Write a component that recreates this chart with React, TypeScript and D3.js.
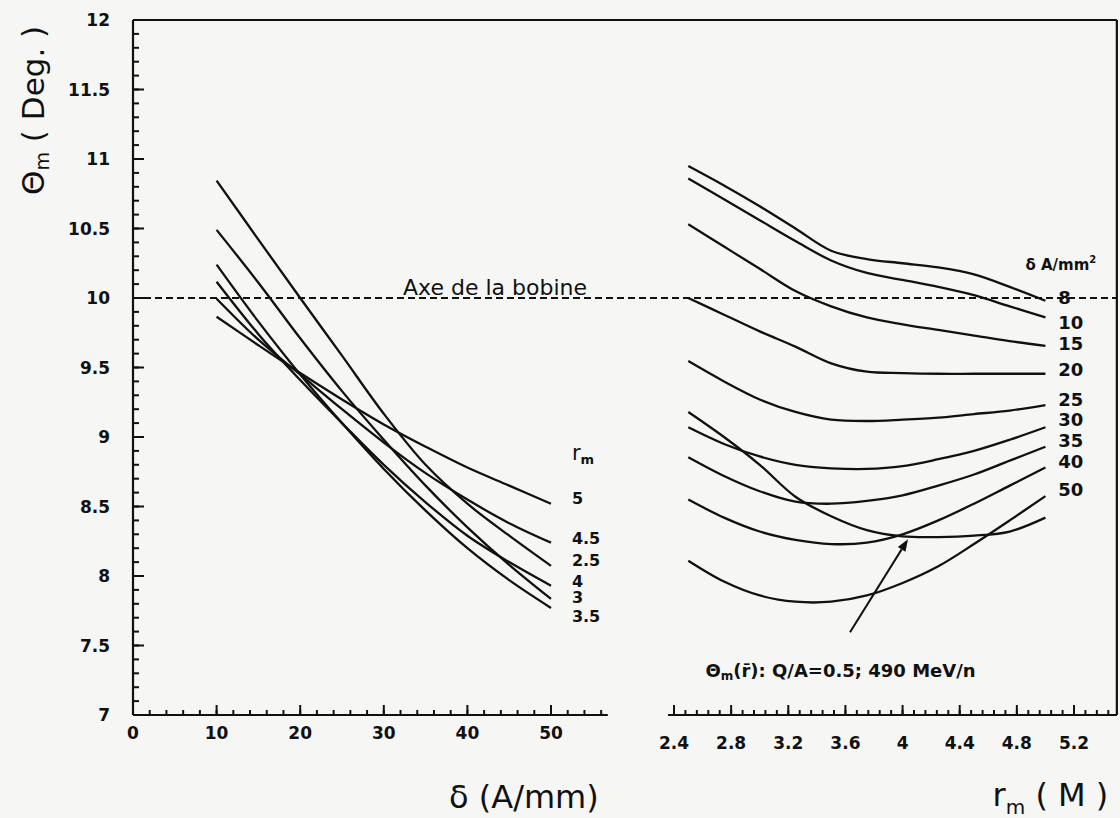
import React from "react";
import * as d3 from "d3";

// ---- Left panel: theta_m vs delta (A/mm) for several r_m ----
const deltaValues = [10, 15, 20, 25, 30, 35, 40, 45, 50];
const rmNames = ["2.5", "3", "3.5", "4", "4.5", "5"];
const thetaRm25 = [10.845, 10.42, 10.0, 9.585, 9.167, 8.8, 8.52, 8.29, 8.073];
const thetaRm3 = [10.49, 10.11, 9.71, 9.33, 8.98, 8.65, 8.35, 8.08, 7.835];
const thetaRm35 = [10.24, 9.83, 9.45, 9.1, 8.77, 8.47, 8.2, 7.97, 7.77];
const thetaRm4 = [10.117, 9.74, 9.41, 9.1, 8.8, 8.53, 8.29, 8.1, 7.93];
const thetaRm45 = [9.995, 9.7, 9.45, 9.2, 8.96, 8.74, 8.55, 8.38, 8.24];
const thetaRm5 = [9.865, 9.66, 9.46, 9.27, 9.09, 8.93, 8.78, 8.65, 8.52];
const leftSeries = [thetaRm25, thetaRm3, thetaRm35, thetaRm4, thetaRm45, thetaRm5];
// label anchor values (theta units) for end labels, order: 5, 4.5, 2.5, 4, 3, 3.5
const leftLabelNames = ["5", "4.5", "2.5", "4", "3", "3.5"];
const leftLabelTheta = [8.561, 8.273, 8.108, 7.964, 7.842, 7.712];
const rmTitleTheta = 8.885;

// ---- Right panel: theta_m vs r_m (M) for several delta ----
const rmValues = [2.5, 2.75, 3.0, 3.25, 3.5, 3.75, 4.0, 4.25, 4.5, 4.75, 5.0];
const d8 = [10.95, 10.81, 10.66, 10.5, 10.34, 10.28, 10.25, 10.22, 10.17, 10.08, 9.98];
const d10 = [10.86, 10.71, 10.56, 10.41, 10.27, 10.18, 10.13, 10.08, 10.02, 9.94, 9.86];
const d15 = [10.53, 10.37, 10.21, 10.05, 9.94, 9.86, 9.81, 9.77, 9.73, 9.69, 9.655];
const d20 = [10.0, 9.88, 9.76, 9.65, 9.53, 9.47, 9.46, 9.455, 9.455, 9.455, 9.455];
const d25 = [9.546, 9.4, 9.27, 9.18, 9.125, 9.115, 9.125, 9.14, 9.165, 9.19, 9.23];
const d30 = [9.07, 8.95, 8.86, 8.8, 8.775, 8.77, 8.79, 8.84, 8.9, 8.98, 9.07];
const d35 = [8.855, 8.72, 8.61, 8.535, 8.52, 8.54, 8.58, 8.65, 8.73, 8.83, 8.93];
const d40 = [8.55, 8.42, 8.32, 8.26, 8.23, 8.24, 8.3, 8.4, 8.52, 8.65, 8.78];
const d50 = [8.11, 7.96, 7.86, 7.815, 7.815, 7.86, 7.95, 8.07, 8.23, 8.4, 8.575];
const thetaMrBar = [9.18, 9.0, 8.8, 8.57, 8.43, 8.33, 8.285, 8.28, 8.29, 8.32, 8.42];
const rightSeries = [d8, d10, d15, d20, d25, d30, d35, d40, d50, thetaMrBar];
const deltaNames = ["8", "10", "15", "20", "25", "30", "35", "40", "50"];
const deltaLabelTheta = [10.007, 9.827, 9.676, 9.489, 9.273, 9.129, 8.978, 8.826, 8.625];
const deltaTitleTheta = 10.24;

// annotation arrow (r_m, theta): tail -> tip
const arrowR = [3.632, 4.038];
const arrowTheta = [7.595, 8.265];
const annotationTheta = 7.27;
const annotationR = 2.62;

// axis ticks
const yMajor = d3.range(7, 12.001, 0.5);
const yMinor = d3.range(7, 12.001, 0.1);
const leftXMajor = [0, 10, 20, 30, 40, 50];
const leftXMinor = d3.range(0, 56.01, 2);
const rightXMajor = [2.4, 2.8, 3.2, 3.6, 4.0, 4.4, 4.8, 5.2];
const rightXMinor = d3.range(2.4, 5.45, 0.08);
const axeTheta = 10;

const W = 1120;
const H = 818;

export default function App() {
  const y = d3.scaleLinear().domain([7, 12]).range([715, 20]);
  const xL = d3.scaleLinear().domain([0, 50]).range([133, 551]);
  const xR = d3.scaleLinear().domain([2.4, 5.2]).range([674, 1074]);
  const leftAxisEnd = xL(56.8);
  const rightAxisStart = xR(2.358);
  const rightEdge = xR(5.5);
  const yBase = y(7);

  const lineL = d3
    .line<number>()
    .x((_, i) => xL(deltaValues[i]))
    .y((d) => y(d))
    .curve(d3.curveCatmullRom.alpha(0.5));
  const lineR = d3
    .line<number>()
    .x((_, i) => xR(rmValues[i]))
    .y((d) => y(d))
    .curve(d3.curveCatmullRom.alpha(0.5));

  const font = "'DejaVu Sans', 'Liberation Sans', sans-serif";
  const ink = "#111";
  const fmt = (v: number) => String(+v.toFixed(2));

  const ax1 = xR(arrowR[0]);
  const ay1 = y(arrowTheta[0]);
  const ax2 = xR(arrowR[1]);
  const ay2 = y(arrowTheta[1]);
  const ang = Math.atan2(ay2 - ay1, ax2 - ax1);
  const hl = 12;
  const hw = 4.5;
  const bx = ax2 - hl * Math.cos(ang);
  const by = ay2 - hl * Math.sin(ang);
  const head = `M${ax2},${ay2} L${bx + hw * Math.sin(ang)},${by - hw * Math.cos(ang)} L${bx - hw * Math.sin(ang)},${by + hw * Math.cos(ang)} Z`;

  return (
    <svg
      width={W}
      height={H}
      style={{ position: "absolute", left: 0, top: 0, display: "block", background: "#f6f6f5" }}
    >
      <rect x={0} y={0} width={W} height={H} fill="#f6f6f5" />
      {/* frame */}
      <g stroke={ink} strokeWidth={2.2} fill="none">
        <line x1={xL(0)} y1={y(12)} x2={rightEdge} y2={y(12)} />
        <line x1={xL(0)} y1={y(12)} x2={xL(0)} y2={yBase} />
        <line x1={rightEdge} y1={y(12)} x2={rightEdge} y2={yBase} />
        <line x1={xL(0)} y1={yBase} x2={leftAxisEnd} y2={yBase} />
        <line x1={rightAxisStart} y1={yBase} x2={rightEdge} y2={yBase} />
      </g>
      {/* y ticks */}
      <g stroke={ink} strokeWidth={2}>
        {yMinor.map((v, i) => (
          <line key={"ym" + i} x1={xL(0)} x2={xL(0) + 6} y1={y(v)} y2={y(v)} />
        ))}
        {yMajor.map((v, i) => (
          <line key={"yM" + i} x1={xL(0)} x2={xL(0) + 11} y1={y(v)} y2={y(v)} />
        ))}
      </g>
      <g fontFamily={font} fontWeight="bold" fontSize={17} fill={ink} textAnchor="end">
        {yMajor.map((v, i) => (
          <text key={"yl" + i} x={110} y={y(v)} dominantBaseline="central">
            {fmt(v)}
          </text>
        ))}
      </g>
      {/* left x ticks */}
      <g stroke={ink} strokeWidth={2}>
        {leftXMinor.map((v, i) => (
          <line key={"lxm" + i} x1={xL(v)} x2={xL(v)} y1={yBase} y2={yBase - 5} />
        ))}
        {leftXMajor.map((v, i) => (
          <line key={"lxM" + i} x1={xL(v)} x2={xL(v)} y1={yBase} y2={yBase - 10} />
        ))}
      </g>
      <g fontFamily={font} fontWeight="bold" fontSize={17} fill={ink} textAnchor="middle">
        {leftXMajor.map((v, i) => (
          <text key={"lxl" + i} x={xL(v)} y={yBase + 18} dominantBaseline="central">
            {v}
          </text>
        ))}
      </g>
      {/* right x ticks */}
      <g stroke={ink} strokeWidth={2}>
        {rightXMinor.map((v, i) => (
          <line key={"rxm" + i} x1={xR(v)} x2={xR(v)} y1={yBase} y2={yBase - 5} />
        ))}
        {rightXMajor.map((v, i) => (
          <line key={"rxM" + i} x1={xR(v)} x2={xR(v)} y1={yBase} y2={yBase - 10} />
        ))}
      </g>
      <g fontFamily={font} fontWeight="bold" fontSize={17} fill={ink} textAnchor="middle">
        {rightXMajor.map((v, i) => (
          <text key={"rxl" + i} x={xR(v)} y={yBase + 28} dominantBaseline="central">
            {fmt(v)}
          </text>
        ))}
      </g>
      {/* dashed coil axis */}
      <line
        x1={xL(0)}
        x2={rightEdge}
        y1={y(axeTheta)}
        y2={y(axeTheta)}
        stroke={ink}
        strokeWidth={2.2}
        strokeDasharray="7,4"
      />
      <text x={xL(32.3)} y={y(axeTheta) - 3} fontFamily={font} fontSize={22} fill={ink}>
        Axe de la bobine
      </text>
      {/* curves */}
      <g fill="none" stroke={ink} strokeWidth={2.3}>
        {leftSeries.map((s, i) => (
          <path key={"L" + rmNames[i]} d={lineL(s) || ""} />
        ))}
        {rightSeries.map((s, i) => (
          <path key={"R" + i} d={lineR(s) || ""} />
        ))}
      </g>
      {/* left labels */}
      <g fontFamily={font} fontWeight="bold" fontSize={16} fill={ink}>
        {leftLabelNames.map((n, i) => (
          <text key={"ll" + n} x={xL(52.5)} y={y(leftLabelTheta[i])} dominantBaseline="central">
            {n}
          </text>
        ))}
        <text x={xL(52.5)} y={y(rmTitleTheta)} fontSize={21} fontWeight="normal" dominantBaseline="central">
          r<tspan fontSize={13} fontWeight="bold" dy={6}>m</tspan>
        </text>
      </g>
      {/* right labels */}
      <g fontFamily={font} fontWeight="bold" fontSize={18} fill={ink}>
        {deltaNames.map((n, i) => (
          <text key={"rl" + n} x={xR(5.09)} y={y(deltaLabelTheta[i])} dominantBaseline="central">
            {n}
          </text>
        ))}
        <text x={xR(4.86)} y={y(deltaTitleTheta)} fontSize={15} dominantBaseline="central">
          δ A/mm
          <tspan fontSize={10} dy={-6}>2</tspan>
        </text>
      </g>
      {/* annotation */}
      <line x1={ax1} y1={ay1} x2={bx} y2={by} stroke={ink} strokeWidth={2} />
      <path d={head} fill={ink} />
      <text x={xR(annotationR)} y={y(annotationTheta)} fontFamily={font} fontWeight="bold" fontSize={18} fill={ink}>
        Θ<tspan fontSize={12} dy={3}>m</tspan>
        <tspan dy={-3}>(r̄): Q/A=0.5; 490 MeV/n</tspan>
      </text>
      {/* axis titles */}
      <text
        transform={`translate(44, ${y(11.35)}) rotate(-90)`}
        textAnchor="middle"
        fontFamily={font}
        fontSize={31}
        fill={ink}
      >
        Θ<tspan fontSize={19} dy={5}>m</tspan>
        <tspan dy={-5}> ( Deg. )</tspan>
      </text>
      <text x={xL(37.8)} y={808} fontFamily={font} fontSize={32} fill={ink}>
        δ (A/mm)
      </text>
      <text x={xR(4.63)} y={806} fontFamily={font} fontSize={32} fill={ink}>
        r<tspan fontSize={20} dy={8}>m</tspan>
        <tspan dy={-8}> ( M )</tspan>
      </text>
    </svg>
  );
}
